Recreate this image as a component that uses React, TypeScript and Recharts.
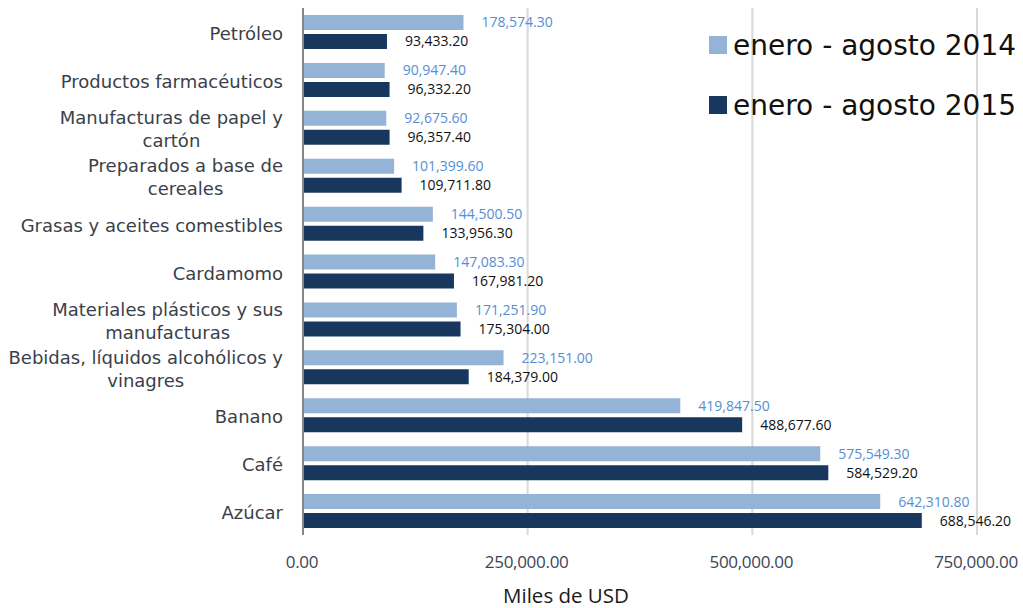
import { Bar, BarChart, CartesianGrid, LabelList, XAxis, YAxis } from "recharts";

const categories = [
  "Petróleo",
  "Productos farmacéuticos",
  "Manufacturas de papel y cartón",
  "Preparados a base de cereales",
  "Grasas y aceites comestibles",
  "Cardamomo",
  "Materiales plásticos y sus manufacturas",
  "Bebidas, líquidos alcohólicos y vinagres",
  "Banano",
  "Café",
  "Azúcar",
];

// how each category label wraps on the axis
const categoryLines = [
  ["Petróleo"],
  ["Productos farmacéuticos"],
  ["Manufacturas de papel y", "cartón"],
  ["Preparados a base de", "cereales"],
  ["Grasas y aceites comestibles"],
  ["Cardamomo"],
  ["Materiales plásticos y sus", "manufacturas"],
  ["Bebidas, líquidos alcohólicos y", "vinagres"],
  ["Banano"],
  ["Café"],
  ["Azúcar"],
];

const values2014 = [
  178574.3, 90947.4, 92675.6, 101399.6, 144500.5, 147083.3, 171251.9, 223151.0, 419847.5, 575549.3, 642310.8,
];
const values2015 = [
  93433.2, 96332.2, 96357.4, 109711.8, 133956.3, 167981.2, 175304.0, 184379.0, 488677.6, 584529.2, 688546.2,
];

const xTicks = [0, 250000, 500000, 750000];
const seriesNames = ["enero - agosto 2014", "enero - agosto 2015"];

const data = categories.map((name, i) => ({ name, y2014: values2014[i], y2015: values2015[i] }));

const fmt = (v: number) =>
  Number(v).toLocaleString("en-US", { minimumFractionDigits: 2, maximumFractionDigits: 2 });

const catFont = "18px 'DejaVu Sans'";
let ctx: CanvasRenderingContext2D | null = null;
function textWidth(s: string) {
  if (!ctx) ctx = document.createElement("canvas").getContext("2d");
  if (!ctx) return s.length * 9;
  ctx.font = catFont;
  return ctx.measureText(s).width;
}

function CategoryTick(props: any) {
  const { x, y, payload } = props;
  const idx = categories.indexOf(payload.value);
  const lines = categoryLines[idx] || [payload.value];
  const right = x - 12;
  const blockW = Math.max(...lines.map(textWidth));
  const cx = right - blockW / 2;
  const lh = 23;
  const startY = y + 1.5 - ((lines.length - 1) * lh) / 2;
  return (
    <g>
      {lines.map((l: string, i: number) => (
        <text
          key={i}
          x={cx}
          y={startY + i * lh}
          textAnchor="middle"
          dominantBaseline="central"
          fill="#3a3f4a"
          style={{ font: catFont }}
        >
          {l}
        </text>
      ))}
    </g>
  );
}

function ValueTick(props: any) {
  const { x, y, payload } = props;
  return (
    <text
      x={x - 1}
      y={y + 18}
      textAnchor="middle"
      dominantBaseline="central"
      fill="#3a4556"
      fontFamily="'Open Sans'"
      fontSize={17}
      letterSpacing={-0.3}
    >
      {fmt(payload.value)}
    </text>
  );
}

const colors = ["#95b3d7", "#17375e"];

function LegendBox() {
  return (
    <div
      style={{
        position: "absolute",
        left: 709,
        top: 15,
        fontFamily: "'DejaVu Sans'",
        fontSize: 28,
        color: "#111",
        whiteSpace: "nowrap",
      }}
    >
      {seriesNames.map((n, i) => (
        <div key={n} style={{ display: "flex", alignItems: "center", height: 60 }}>
          <span style={{ width: 18, height: 18, background: colors[i], marginRight: 6, display: "inline-block" }} />
          <span>{n}</span>
        </div>
      ))}
    </div>
  );
}

export default function App() {
  return (
    <div style={{ position: "absolute", left: 0, top: 0, width: 1023, height: 608, background: "#fff" }}>
      <BarChart
        width={1023}
        height={608}
        data={data}
        layout="vertical"
        margin={{ top: 8, right: 46, bottom: 0, left: 0 }}
        barSize={15}
        barGap={4}
      >
        <CartesianGrid horizontal={false} stroke="#d9d9d9" strokeWidth={2} />
        <XAxis
          type="number"
          domain={[0, 750000]}
          ticks={xTicks}
          axisLine={false}
          tickLine={false}
          height={73}
          tick={<ValueTick />}
          label={{
            value: "Miles de USD",
            position: "insideBottom",
            offset: 5,
            dx: -74,
            style: { fontFamily: "'Open Sans'", fontSize: 20.5, fill: "#1a1a1a" },
          }}
        />
        <YAxis
          type="category"
          dataKey="name"
          width={303}
          axisLine={{ stroke: "#868686", strokeWidth: 2 }}
          tickLine={false}
          interval={0}
          tick={<CategoryTick />}
        />
        <Bar dataKey="y2014" name={seriesNames[0]} fill={colors[0]} isAnimationActive={false}>
          <LabelList
            dataKey="y2014"
            position="right"
            offset={18}
            formatter={(v: any) => fmt(v)}
            style={{ fontFamily: "'Open Sans'", fontSize: 14, fill: "#558ed5" }}
          />
        </Bar>
        <Bar dataKey="y2015" name={seriesNames[1]} fill={colors[1]} isAnimationActive={false}>
          <LabelList
            dataKey="y2015"
            position="right"
            offset={18}
            formatter={(v: any) => fmt(v)}
            style={{ fontFamily: "'Open Sans'", fontSize: 14, fill: "#111" }}
          />
        </Bar>
      </BarChart>
      <LegendBox />
    </div>
  );
}
